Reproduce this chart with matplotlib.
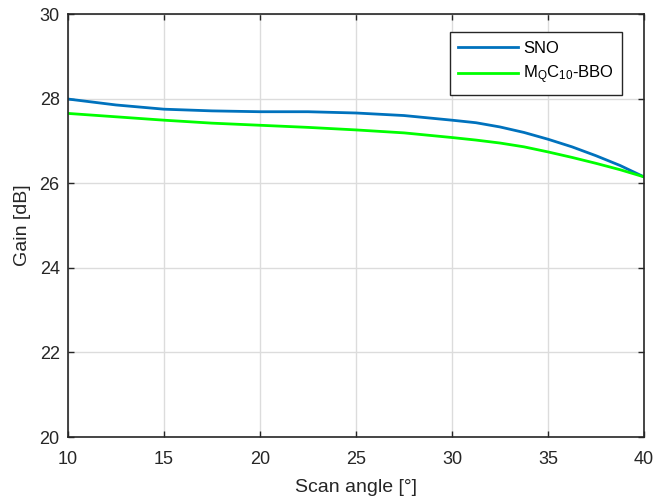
import matplotlib.pyplot as plt

plt.rcParams['font.family'] = ['Liberation Sans', 'DejaVu Sans']
plt.rcParams['mathtext.fontset'] = 'custom'
plt.rcParams['mathtext.rm'] = 'Liberation Sans'

angle = [10, 12.5, 15, 17.5, 20, 22.5, 25, 27.5, 30, 31.25, 32.5, 33.75, 35,
         36.25, 37.5, 38.75, 40]
gain_sno = [27.99, 27.85, 27.75, 27.71, 27.69, 27.69, 27.66, 27.60, 27.49, 27.43,
            27.33, 27.20, 27.04, 26.86, 26.65, 26.42, 26.15]
gain_bbo = [27.65, 27.57, 27.49, 27.42, 27.37, 27.32, 27.26, 27.19, 27.08, 27.02,
            26.95, 26.86, 26.74, 26.61, 26.47, 26.32, 26.15]

fig = plt.figure(figsize=(6.53, 4.97), dpi=100)
ax = fig.add_axes([0.1041, 0.1207, 0.8821, 0.8511])

ax.plot(angle, gain_sno, color='#0072BD', linewidth=2, label='SNO')
ax.plot(angle, gain_bbo, color='#00FF00', linewidth=2,
        label=r'$\mathregular{M_QC_{10}}$-BBO')

ax.set_xlim(10, 40)
ax.set_ylim(20, 30)
ax.set_xticks([10, 15, 20, 25, 30, 35, 40])
ax.set_yticks([20, 22, 24, 26, 28, 30])
ax.grid(True, color='#dcdcdc', linewidth=1)
ax.set_axisbelow(True)
ax.tick_params(direction='in', length=4.5, width=1, labelsize=13, top=True,
               right=True, color='#262626', labelcolor='#262626')
ax.tick_params(axis='x', pad=10)
ax.tick_params(axis='y', pad=6)
for s in ax.spines.values():
    s.set_color('#262626')
    s.set_linewidth(1.2)

ax.set_xlabel('Scan angle [°]', fontsize=14, color='#262626', labelpad=8)
ax.set_ylabel('Gain [dB]', fontsize=14, color='#262626', labelpad=6)

leg = ax.legend(loc='upper right', bbox_to_anchor=(0.962, 0.957), fontsize=12,
                fancybox=False, framealpha=1, edgecolor='#262626',
                handlelength=3.6, handletextpad=0.3, borderpad=0.5,
                labelspacing=0.5, borderaxespad=0)
leg.get_frame().set_linewidth(1)

fig.savefig('out.png', dpi=100)
